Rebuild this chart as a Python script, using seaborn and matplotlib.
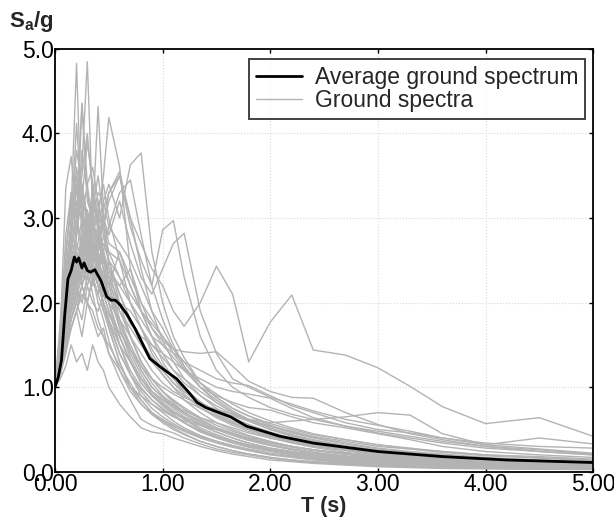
import matplotlib
matplotlib.use("Agg")
import matplotlib.pyplot as plt
from matplotlib.lines import Line2D
from matplotlib.ticker import FormatStrFormatter, MultipleLocator
import pandas as pd
import seaborn as sns

# periods (s) shared by the individual ground spectra
PERIODS = [0.00, 0.05, 0.10, 0.15, 0.20, 0.25, 0.30, 0.35, 0.40, 0.45, 0.50, 0.60,
           0.70, 0.80, 0.90, 1.00, 1.10, 1.20, 1.35, 1.50, 1.65, 1.80, 2.00, 2.20,
           2.40, 2.70, 3.00, 3.30, 3.60, 4.00, 4.50, 5.00]

# Sa/g of each record
SPECTRA = {
    "r01": [1.00, 1.80, 2.60, 3.10, 4.83, 2.90, 2.50, 2.20, 2.60, 1.90, 1.70, 1.30, 1.00, 0.85, 0.70, 0.60,
            0.52, 0.45, 0.36, 0.30, 0.25, 0.21, 0.17, 0.14, 0.12, 0.10, 0.08, 0.07, 0.06, 0.05, 0.04, 0.035],
    "r02": [1.00, 1.60, 2.40, 2.90, 3.30, 3.60, 4.85, 3.10, 2.50, 2.20, 2.00, 1.60, 1.30, 1.05, 0.90, 0.78,
            0.68, 0.58, 0.47, 0.40, 0.34, 0.29, 0.24, 0.20, 0.17, 0.14, 0.12, 0.10, 0.09, 0.08, 0.065, 0.055],
    "r03": [1.00, 1.50, 2.20, 2.60, 3.00, 4.35, 3.20, 3.00, 4.32, 3.10, 2.40, 1.90, 1.60, 1.30, 1.10, 0.95,
            0.82, 0.70, 0.58, 0.50, 0.43, 0.37, 0.31, 0.26, 0.22, 0.18, 0.15, 0.13, 0.11, 0.09, 0.075, 0.065],
    "r04": [1.00, 1.30, 1.80, 2.20, 2.40, 2.70, 2.90, 3.20, 3.00, 3.50, 4.19, 3.61, 2.40, 1.90, 1.60, 1.30,
            1.10, 0.95, 0.80, 0.68, 0.58, 0.50, 0.42, 0.36, 0.31, 0.26, 0.22, 0.19, 0.16, 0.13, 0.11, 0.09],
    "r05": [1.00, 1.20, 1.60, 1.90, 2.10, 2.30, 2.60, 2.40, 2.90, 3.20, 3.40, 3.00, 3.63, 3.77, 2.60, 2.00,
            1.60, 1.35, 1.05, 0.88, 0.75, 0.66, 0.55, 0.47, 0.41, 0.34, 0.28, 0.24, 0.21, 0.17, 0.14, 0.12],
    "r06": [1.00, 1.20, 1.50, 1.80, 2.00, 2.20, 2.40, 2.50, 2.70, 2.90, 3.30, 3.50, 2.90, 2.50, 2.20, 2.86,
            2.97, 2.30, 1.60, 1.20, 1.00, 0.88, 0.76, 0.68, 0.62, 0.54, 0.46, 0.40, 0.34, 0.28, 0.24, 0.20],
    "r07": [1.00, 1.40, 1.90, 2.30, 2.60, 2.40, 2.80, 3.30, 3.00, 2.90, 3.20, 3.50, 3.00, 2.70, 2.40, 2.20,
            1.90, 1.72, 2.00, 2.43, 2.10, 1.30, 1.77, 2.09, 1.44, 1.38, 1.23, 1.01, 0.77, 0.57, 0.64, 0.42],
    "r08": [1.00, 1.30, 1.70, 2.00, 2.30, 2.20, 2.50, 2.70, 2.60, 3.00, 2.80, 3.20, 2.70, 2.30, 2.10, 2.40,
            2.70, 2.82, 1.90, 1.40, 1.10, 1.00, 0.88, 0.80, 0.72, 0.62, 0.55, 0.48, 0.40, 0.32, 0.27, 0.22],
    "r09": [1.00, 1.20, 1.60, 2.00, 2.40, 2.70, 2.50, 2.80, 3.10, 2.90, 2.60, 2.50, 2.20, 1.90, 1.70, 1.55,
            1.45, 1.42, 1.40, 1.42, 1.25, 1.07, 0.95, 0.88, 0.87, 0.70, 0.56, 0.45, 0.38, 0.30, 0.26, 0.21],
    "r10": [1.00, 1.30, 1.80, 2.20, 2.60, 2.40, 2.30, 2.60, 2.50, 2.20, 2.00, 1.80, 1.60, 1.40, 1.20, 1.05,
            0.95, 0.88, 0.80, 0.74, 0.68, 0.62, 0.58, 0.60, 0.62, 0.65, 0.70, 0.67, 0.45, 0.32, 0.40, 0.33],
    "r11": [1.00, 1.20, 1.50, 1.80, 2.10, 2.00, 2.30, 2.20, 2.40, 2.60, 2.30, 2.20, 2.00, 1.80, 1.60, 1.50,
            1.40, 1.30, 1.20, 1.10, 1.05, 1.02, 0.90, 0.78, 0.70, 0.58, 0.50, 0.46, 0.40, 0.34, 0.30, 0.28],
    "r12": [1.00, 1.40, 2.10, 2.80, 3.40, 2.90, 3.00, 2.60, 2.40, 2.10, 1.90, 1.50, 1.20, 1.00, 0.85, 0.75,
            0.66, 0.58, 0.49, 0.42, 0.36, 0.31, 0.26, 0.22, 0.19, 0.15, 0.12, 0.10, 0.09, 0.07, 0.06, 0.05],
    "r13": [1.00, 1.70, 3.36, 3.73, 3.00, 3.20, 2.70, 2.30, 2.00, 1.80, 1.55, 1.20, 0.95, 0.80, 0.68, 0.58,
            0.50, 0.44, 0.36, 0.30, 0.25, 0.21, 0.17, 0.14, 0.12, 0.09, 0.07, 0.06, 0.05, 0.04, 0.035, 0.03],
    "r14": [1.00, 1.50, 2.30, 2.90, 4.12, 3.10, 2.80, 2.40, 2.20, 2.00, 1.80, 1.40, 1.15, 0.95, 0.80, 0.70,
            0.60, 0.52, 0.43, 0.36, 0.30, 0.26, 0.21, 0.18, 0.15, 0.12, 0.10, 0.08, 0.07, 0.06, 0.05, 0.04],
    "r15": [1.00, 1.40, 2.00, 2.50, 2.80, 4.36, 3.40, 2.90, 2.60, 2.40, 2.10, 1.70, 1.40, 1.15, 0.95, 0.82,
            0.72, 0.63, 0.52, 0.44, 0.37, 0.32, 0.27, 0.23, 0.20, 0.16, 0.13, 0.11, 0.09, 0.08, 0.065, 0.055],
    "r16": [1.00, 1.60, 2.60, 3.20, 3.00, 3.50, 4.00, 3.30, 2.90, 2.50, 2.20, 1.70, 1.35, 1.10, 0.92, 0.80,
            0.70, 0.62, 0.50, 0.42, 0.36, 0.31, 0.26, 0.22, 0.19, 0.15, 0.12, 0.10, 0.09, 0.07, 0.06, 0.05],
    "r17": [1.00, 1.30, 1.90, 2.30, 2.70, 2.50, 2.80, 3.00, 2.70, 3.10, 3.30, 3.55, 3.00, 2.40, 1.90, 1.55,
            1.30, 1.10, 0.90, 0.75, 0.64, 0.56, 0.47, 0.40, 0.35, 0.28, 0.24, 0.20, 0.17, 0.14, 0.12, 0.10],
    "r18": [1.00, 1.20, 1.60, 2.00, 2.30, 2.80, 2.60, 3.00, 3.30, 3.20, 2.90, 3.30, 3.45, 2.80, 2.20, 1.80,
            1.50, 1.25, 1.00, 0.82, 0.70, 0.60, 0.50, 0.43, 0.37, 0.30, 0.25, 0.21, 0.18, 0.15, 0.12, 0.10],
    "r19": [1.00, 1.10, 1.25, 1.50, 1.30, 1.40, 1.20, 1.50, 1.30, 1.20, 1.00, 0.80, 0.65, 0.52, 0.47, 0.45,
            0.40, 0.36, 0.30, 0.25, 0.21, 0.18, 0.14, 0.12, 0.10, 0.08, 0.06, 0.05, 0.04, 0.035, 0.03, 0.025],
    "r20": [1.00, 1.15, 1.40, 1.70, 1.90, 1.60, 2.00, 1.80, 1.60, 1.70, 1.40, 1.10, 0.85, 0.62, 0.55, 0.50,
            0.46, 0.40, 0.33, 0.27, 0.23, 0.20, 0.16, 0.13, 0.11, 0.09, 0.07, 0.06, 0.05, 0.04, 0.035, 0.03],
    "r21": [1.00, 1.25, 1.70, 2.10, 2.50, 2.20, 2.40, 2.10, 1.80, 1.60, 1.50, 1.25, 1.05, 0.85, 0.70, 0.62,
            0.55, 0.48, 0.40, 0.34, 0.29, 0.25, 0.20, 0.17, 0.14, 0.11, 0.09, 0.08, 0.065, 0.055, 0.045, 0.04],
    "r22": [1.00, 1.30, 1.90, 2.40, 2.20, 2.70, 2.50, 2.30, 2.10, 1.90, 1.80, 1.50, 1.30, 1.10, 0.95, 0.85,
            0.75, 0.65, 0.55, 0.47, 0.40, 0.34, 0.28, 0.24, 0.21, 0.17, 0.14, 0.12, 0.10, 0.08, 0.07, 0.06],
    "r23": [1.00, 1.20, 1.60, 1.90, 2.20, 2.50, 2.20, 2.40, 2.20, 2.00, 1.85, 1.65, 1.45, 1.25, 1.05, 0.90,
            0.80, 0.70, 0.60, 0.52, 0.46, 0.40, 0.34, 0.29, 0.25, 0.21, 0.18, 0.15, 0.13, 0.11, 0.09, 0.08],
    "r24": [1.00, 1.35, 2.00, 2.60, 3.00, 2.70, 3.10, 2.80, 2.50, 2.30, 2.10, 1.75, 1.45, 1.20, 1.00, 0.88,
            0.78, 0.70, 0.60, 0.52, 0.45, 0.40, 0.34, 0.30, 0.26, 0.22, 0.18, 0.15, 0.13, 0.11, 0.09, 0.08],
    "r25": [1.00, 1.25, 1.80, 2.20, 2.00, 2.40, 2.60, 2.90, 2.70, 2.50, 2.40, 2.10, 1.80, 1.55, 1.35, 1.15,
            1.00, 0.90, 0.76, 0.66, 0.57, 0.50, 0.42, 0.36, 0.31, 0.26, 0.22, 0.19, 0.16, 0.13, 0.11, 0.10],
    "r26": [1.00, 1.20, 1.50, 1.70, 1.90, 2.10, 2.00, 2.30, 2.50, 2.30, 2.20, 2.00, 1.90, 1.70, 1.50, 1.40,
            1.30, 1.20, 1.10, 1.00, 0.95, 0.92, 0.87, 0.75, 0.64, 0.54, 0.48, 0.42, 0.36, 0.30, 0.24, 0.20],
    "r27": [1.00, 1.30, 1.70, 2.00, 2.30, 2.60, 2.40, 2.70, 2.90, 2.60, 2.40, 2.20, 2.40, 2.00, 1.70, 1.50,
            1.35, 1.20, 1.00, 0.90, 0.82, 0.76, 0.73, 0.65, 0.58, 0.52, 0.45, 0.38, 0.30, 0.24, 0.20, 0.17],
    "r28": [1.00, 1.20, 1.60, 2.10, 2.40, 2.20, 2.00, 1.90, 1.70, 1.60, 1.40, 1.20, 1.00, 0.90, 0.80, 0.72,
            0.65, 0.60, 0.55, 0.50, 0.44, 0.38, 0.32, 0.27, 0.23, 0.19, 0.16, 0.14, 0.12, 0.10, 0.09, 0.08],
    "r29": [1.00, 1.40, 2.20, 2.60, 3.20, 3.00, 2.70, 3.40, 2.80, 2.40, 2.00, 1.60, 1.30, 1.05, 0.90, 0.80,
            0.70, 0.64, 0.56, 0.50, 0.45, 0.40, 0.35, 0.30, 0.26, 0.21, 0.17, 0.14, 0.12, 0.10, 0.09, 0.08],
    "r30": [1.00, 1.15, 1.50, 1.80, 2.00, 1.80, 2.20, 2.00, 1.90, 2.10, 1.90, 1.60, 1.30, 1.10, 0.95, 0.85,
            0.78, 0.72, 0.64, 0.58, 0.52, 0.46, 0.40, 0.35, 0.30, 0.25, 0.20, 0.17, 0.15, 0.12, 0.10, 0.09],
    "r31": [1.00, 1.30, 1.80, 2.50, 2.80, 3.30, 3.00, 2.60, 2.30, 2.00, 1.70, 1.30, 1.00, 0.80, 0.68, 0.60,
            0.54, 0.48, 0.41, 0.36, 0.31, 0.27, 0.22, 0.19, 0.16, 0.13, 0.11, 0.09, 0.08, 0.065, 0.055, 0.045],
    "r32": [1.00, 1.20, 1.55, 1.90, 2.20, 2.00, 2.30, 2.60, 2.40, 2.80, 2.60, 2.30, 2.00, 1.70, 1.40, 1.20,
            1.05, 0.95, 0.82, 0.72, 0.66, 0.60, 0.54, 0.48, 0.42, 0.36, 0.30, 0.27, 0.24, 0.20, 0.18, 0.15],
    "r33": [1.00, 1.40, 2.30, 3.00, 3.80, 3.40, 3.00, 2.70, 2.50, 2.30, 2.00, 1.50, 1.15, 0.90, 0.75, 0.65,
            0.57, 0.50, 0.42, 0.36, 0.31, 0.26, 0.21, 0.18, 0.15, 0.12, 0.10, 0.08, 0.07, 0.06, 0.05, 0.04],
    "r34": [1.00, 1.25, 1.70, 2.20, 2.60, 3.00, 3.40, 3.60, 3.20, 2.90, 2.50, 2.00, 1.60, 1.30, 1.10, 0.95,
            0.84, 0.74, 0.62, 0.52, 0.45, 0.39, 0.32, 0.27, 0.23, 0.18, 0.15, 0.13, 0.11, 0.09, 0.08, 0.07],
    "r35": [1.00, 1.30, 2.00, 2.40, 2.90, 3.30, 2.90, 3.10, 3.50, 3.00, 2.70, 2.60, 2.20, 1.90, 1.60, 1.40,
            1.20, 1.05, 0.90, 0.78, 0.68, 0.60, 0.50, 0.42, 0.36, 0.29, 0.24, 0.20, 0.17, 0.14, 0.11, 0.09],
    "r36": [1.00, 1.50, 2.50, 3.30, 2.80, 3.80, 3.30, 2.90, 3.20, 2.80, 2.50, 2.10, 1.80, 1.50, 1.30, 1.15,
            1.00, 0.85, 0.70, 0.58, 0.50, 0.43, 0.36, 0.30, 0.26, 0.21, 0.17, 0.14, 0.12, 0.10, 0.08, 0.07],
    "r37": [1.00, 1.20, 1.70, 2.10, 2.50, 2.30, 2.70, 2.50, 2.80, 2.60, 2.90, 2.70, 2.50, 2.20, 1.90, 1.70,
            1.45, 1.25, 1.00, 0.85, 0.72, 0.62, 0.52, 0.44, 0.38, 0.31, 0.26, 0.22, 0.19, 0.16, 0.13, 0.11],
    "r38": [1.00, 1.35, 2.10, 2.70, 3.50, 3.10, 2.60, 2.90, 2.60, 2.20, 2.10, 1.90, 1.70, 1.50, 1.35, 1.20,
            1.05, 0.92, 0.76, 0.64, 0.55, 0.48, 0.40, 0.34, 0.29, 0.23, 0.19, 0.16, 0.14, 0.11, 0.09, 0.08],
    "r39": [1.00, 1.25, 1.80, 2.30, 2.10, 2.60, 3.00, 2.70, 2.40, 2.60, 2.30, 2.00, 1.75, 1.60, 1.50, 1.35,
            1.20, 1.10, 0.95, 0.82, 0.70, 0.62, 0.54, 0.46, 0.40, 0.33, 0.27, 0.23, 0.20, 0.16, 0.13, 0.11],
    "r40": [1.00, 1.60, 2.80, 3.30, 3.00, 2.60, 2.90, 2.50, 2.20, 2.00, 1.75, 1.40, 1.15, 0.98, 0.85, 0.74,
            0.66, 0.58, 0.48, 0.41, 0.35, 0.30, 0.25, 0.21, 0.18, 0.14, 0.11, 0.09, 0.08, 0.06, 0.05, 0.045],
    "r41": [1.00, 1.20, 1.50, 1.90, 2.20, 2.40, 2.60, 2.30, 2.50, 2.70, 2.50, 2.30, 2.10, 1.90, 1.75, 1.60,
            1.45, 1.30, 1.05, 0.88, 0.75, 0.66, 0.57, 0.50, 0.44, 0.38, 0.32, 0.28, 0.24, 0.20, 0.17, 0.14],
    "r42": [1.00, 1.40, 2.20, 2.90, 3.60, 3.20, 3.90, 3.40, 3.00, 2.60, 2.30, 1.80, 1.45, 1.20, 1.00, 0.88,
            0.77, 0.68, 0.56, 0.47, 0.40, 0.34, 0.28, 0.24, 0.20, 0.16, 0.13, 0.11, 0.09, 0.08, 0.06, 0.05],
    "r43": [1.00, 1.15, 1.45, 1.70, 1.90, 2.20, 2.00, 2.30, 2.10, 2.40, 2.20, 2.60, 2.30, 2.00, 1.80, 1.60,
            1.40, 1.22, 1.05, 0.92, 0.80, 0.70, 0.60, 0.52, 0.45, 0.38, 0.32, 0.27, 0.23, 0.19, 0.16, 0.13],
    "r44": [1.00, 1.30, 1.90, 2.50, 2.30, 2.90, 2.60, 3.20, 2.90, 2.50, 2.20, 1.80, 1.50, 1.25, 1.10, 1.00,
            0.92, 0.85, 0.75, 0.66, 0.58, 0.51, 0.43, 0.37, 0.32, 0.26, 0.21, 0.18, 0.15, 0.12, 0.10, 0.09],
    "r45": [1.00, 1.45, 2.40, 2.10, 2.80, 3.40, 3.00, 2.60, 2.80, 2.50, 2.30, 2.00, 1.60, 1.30, 1.10, 0.95,
            0.85, 0.76, 0.64, 0.55, 0.48, 0.42, 0.35, 0.30, 0.26, 0.21, 0.17, 0.14, 0.12, 0.10, 0.08, 0.07],
    "r46": [1.00, 1.20, 1.60, 2.00, 2.40, 2.20, 2.50, 2.80, 3.10, 3.40, 3.00, 2.50, 2.00, 1.70, 1.45, 1.25,
            1.10, 0.98, 0.83, 0.70, 0.60, 0.52, 0.44, 0.38, 0.33, 0.27, 0.22, 0.19, 0.16, 0.13, 0.11, 0.09],
}

# average ground spectrum
AVG_T = [0.00, 0.03, 0.06, 0.09, 0.12, 0.15, 0.18, 0.20, 0.22, 0.25, 0.27, 0.30, 0.33, 0.37,
         0.40, 0.43, 0.48, 0.52, 0.56, 0.60, 0.67, 0.75, 0.88, 1.00, 1.13, 1.25, 1.32, 1.40,
         1.63, 1.78, 2.09, 2.40, 3.00, 3.60, 4.20, 5.00]
AVG_SA = [1.00, 1.12, 1.32, 1.85, 2.28, 2.38, 2.54, 2.48, 2.53, 2.41, 2.47, 2.38, 2.36, 2.39,
          2.32, 2.25, 2.07, 2.03, 2.03, 1.98, 1.86, 1.68, 1.34, 1.22, 1.10, 0.93, 0.82, 0.76,
          0.65, 0.54, 0.42, 0.34, 0.24, 0.18, 0.14, 0.11]

GRAY, BLACK = "#b3b3b3", "#000000"


def main() -> None:
    sns.set_theme(style="ticks")
    plt.rcParams["font.family"] = ["Liberation Sans", "DejaVu Sans"]
    plt.rcParams["mathtext.fontset"] = "custom"
    plt.rcParams["mathtext.bf"] = "Liberation Sans:bold"
    df = pd.DataFrame([{"record": k, "T": t, "Sa": v}
                       for k, vals in SPECTRA.items() for t, v in zip(PERIODS, vals)])
    avg = pd.DataFrame({"T": AVG_T, "Sa": AVG_SA})

    fig = plt.figure(figsize=(6.14, 5.26), dpi=100)
    ax = fig.add_axes([0.0896, 0.103, 0.8764, 0.804])
    sns.lineplot(data=df, x="T", y="Sa", units="record", estimator=None, color=GRAY,
                 linewidth=1.0, ax=ax, legend=False)
    sns.lineplot(data=avg, x="T", y="Sa", color=BLACK, linewidth=2.0, ax=ax, legend=False)

    ax.set_xlim(0, 5); ax.set_ylim(0, 5)
    ax.xaxis.set_major_locator(MultipleLocator(1.0)); ax.yaxis.set_major_locator(MultipleLocator(1.0))
    ax.xaxis.set_major_formatter(FormatStrFormatter("%.2f")); ax.yaxis.set_major_formatter(FormatStrFormatter("%.1f"))
    ax.grid(True, color="#d9d9d9", linestyle=":", linewidth=0.8)
    ax.tick_params(direction="in", length=3, width=1, top=True, right=True,
                   labelsize=16.5, colors="black", pad=1)
    for s in ax.spines.values():
        s.set_color("black"); s.set_linewidth(1.3)
    ax.set_xlabel("T (s)", fontsize=15.5, fontweight="bold", labelpad=0)
    ax.set_ylabel("")
    fig.text(0.015, 0.935, r"S$_\mathbf{a}$/g", fontsize=16, fontweight="bold", ha="left", va="bottom")

    handles = [Line2D([], [], color=BLACK, lw=2.0), Line2D([], [], color=GRAY, lw=1.0)]
    leg = ax.legend(handles, ["Average ground spectrum", "Ground spectra"], loc="upper right",
                    bbox_to_anchor=(0.985, 0.976), fontsize=16.5, frameon=True, fancybox=False,
                    borderpad=0.3, handlelength=2.0, handletextpad=0.55, labelspacing=0.0,
                    borderaxespad=0)
    leg.get_frame().set_edgecolor("black"); leg.get_frame().set_linewidth(1.3)
    fig.savefig("out.png", dpi=100)


if __name__ == "__main__":
    main()
